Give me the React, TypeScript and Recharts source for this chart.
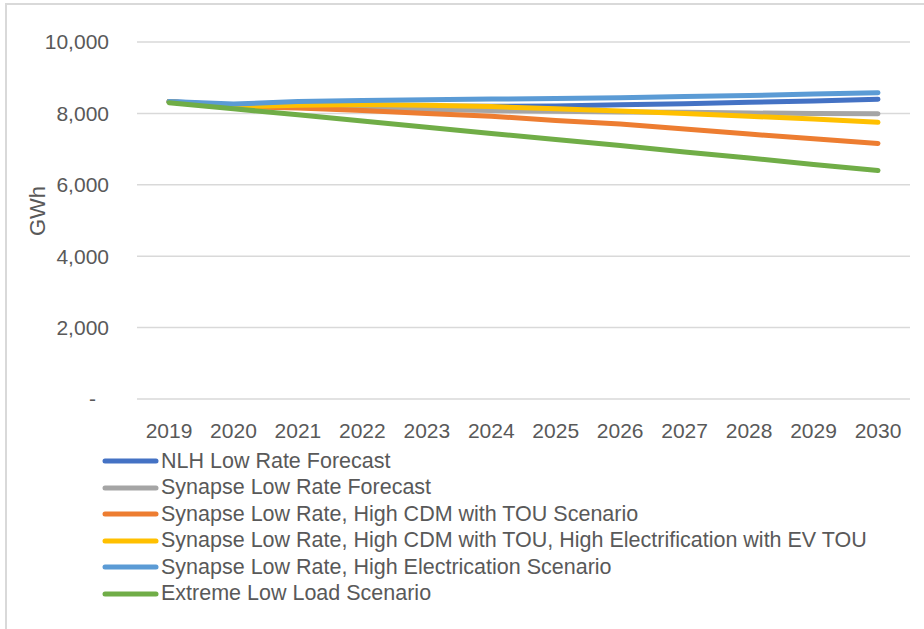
import React from "react";
import { LineChart, Line, XAxis, YAxis, CartesianGrid, Legend, Label } from "recharts";

const years = ["2019", "2020", "2021", "2022", "2023", "2024", "2025", "2026", "2027", "2028", "2029", "2030"];

const nlhLowRate = [8330, 8220, 8210, 8200, 8200, 8200, 8210, 8240, 8270, 8310, 8350, 8395];
const synapseLowRate = [8330, 8190, 8170, 8140, 8110, 8080, 8060, 8040, 8030, 8010, 8000, 7990];
const highCdmTou = [8330, 8190, 8150, 8080, 8000, 7920, 7800, 7700, 7560, 7420, 7290, 7160];
const highCdmElecEv = [8330, 8190, 8230, 8250, 8230, 8190, 8130, 8070, 8000, 7920, 7840, 7750];
const highElec = [8330, 8260, 8330, 8360, 8380, 8400, 8420, 8440, 8470, 8500, 8540, 8580];
const extremeLow = [8300, 8130, 7960, 7790, 7610, 7440, 7270, 7100, 6920, 6750, 6570, 6400];

const yTicks = [0, 2000, 4000, 6000, 8000, 10000];

const series = [
  { key: "nlh", name: "NLH Low Rate Forecast", color: "#4472C4", values: nlhLowRate },
  { key: "syn", name: "Synapse Low Rate Forecast", color: "#A5A5A5", values: synapseLowRate },
  { key: "cdm", name: "Synapse Low Rate, High CDM with TOU Scenario", color: "#ED7D31", values: highCdmTou },
  { key: "cdmElec", name: "Synapse Low Rate, High CDM with TOU, High Electrification with EV TOU", color: "#FFC000", values: highCdmElecEv },
  { key: "elec", name: "Synapse Low Rate, High Electrication Scenario", color: "#5B9BD5", values: highElec },
  { key: "extreme", name: "Extreme Low Load Scenario", color: "#70AD47", values: extremeLow },
];

const data = years.map((year, i) => {
  const row: any = { year };
  series.forEach((s) => (row[s.key] = s.values[i]));
  return row;
});

const FONT = "'Liberation Sans', Arial, sans-serif";
const TEXT = "#595959";

const YTick = (props: any) => {
  const { x, y, payload } = props;
  const v = payload.value;
  const label = v === 0 ? "-" : v.toLocaleString("en-US");
  return (
    <text x={v === 0 ? x - 13 : x} y={y} dy="0.355em" textAnchor="end" fill={TEXT} fontSize={21} fontFamily={FONT}>
      {label}
    </text>
  );
};

const renderLegend = () => (
  <div style={{ paddingLeft: 101, fontFamily: FONT }}>
    {series.map((s) => (
      <div key={s.key} style={{ display: "flex", alignItems: "center", height: 26.5 }}>
        <svg width={58} height={8}>
          <line x1={4} y1={4} x2={55} y2={4} stroke={s.color} strokeWidth={5} strokeLinecap="round" />
        </svg>
        <span style={{ fontSize: 21.5, color: TEXT, whiteSpace: "nowrap", marginLeft: 2 }}>{s.name}</span>
      </div>
    ))}
  </div>
);

export default function App() {
  return (
    <div style={{ position: "absolute", left: 0, top: 0, width: 924, height: 629, overflow: "hidden", background: "#fff" }}>
      <div
        style={{
          position: "absolute",
          left: 5,
          top: 3,
          width: 960,
          height: 660,
          border: "2px solid #d9d9d9",
        }}
      />
      <LineChart
        width={924}
        height={629}
        data={data}
        margin={{ top: 42, right: 14, bottom: 31, left: 0 }}
        style={{ position: "absolute", left: 0, top: 0 }}
      >
        <CartesianGrid vertical={false} stroke="#d9d9d9" strokeWidth={1.5} />
        <XAxis
          dataKey="year"
          axisLine={false}
          tickLine={false}
          height={40}
          tickMargin={18}
          interval={0}
          padding={{ left: 32, right: 32 }}
          tick={{ fill: TEXT, fontSize: 21, fontFamily: FONT }}
        />
        <YAxis
          domain={[0, 10000]}
          ticks={yTicks}
          width={137}
          axisLine={false}
          tickLine={false}
          tickMargin={22}
          tick={<YTick />}
        >
          <Label
            content={() => (
              <text
                x={37}
                y={211}
                transform="rotate(-90 37 211)"
                textAnchor="middle"
                dominantBaseline="central"
                fill={TEXT}
                fontSize={22}
                fontFamily={FONT}
              >
                GWh
              </text>
            )}
          />
        </YAxis>
        <Legend verticalAlign="bottom" content={renderLegend} wrapperStyle={{ top: 448, left: 0, width: 924, bottom: "auto" }} />
        {series.map((s) => (
          <Line
            key={s.key}
            dataKey={s.key}
            name={s.name}
            stroke={s.color}
            strokeWidth={5}
            strokeLinecap="round"
            strokeLinejoin="round"
            dot={false}
            activeDot={false}
            type="linear"
            isAnimationActive={false}
          />
        ))}
      </LineChart>
    </div>
  );
}
